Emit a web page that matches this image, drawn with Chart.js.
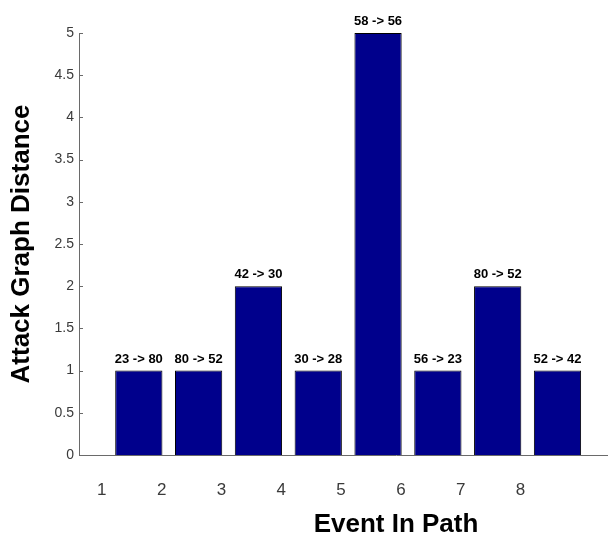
<!DOCTYPE html>
<html>
<head>
<meta charset="utf-8">
<script src="https://cdn.jsdelivr.net/npm/chart.js@4/dist/chart.umd.min.js"></script>
<style>
  html, body { margin: 0; padding: 0; background: #fff; overflow: hidden; width: 608px; height: 540px; }
  canvas { display: block; }
</style>
</head>
<body>
<canvas id="c" width="720" height="540"></canvas>
<script>
// ---- data ----
const events = [1, 2, 3, 4, 5, 6, 7, 8];
const distances = [1, 1, 2, 1, 5, 1, 2, 1];
const transitions = ["23 -> 80", "80 -> 52", "42 -> 30", "30 -> 28", "58 -> 56", "56 -> 23", "80 -> 52", "52 -> 42"];
const xTickValues = [1, 2, 3, 4, 5, 6, 7, 8];
const yTickStep = 0.5;
const xTitle = "Event In Path";
const yTitle = "Attack Graph Distance";

const AXIS = '#6a6a6a';

const barLabelPlugin = {
  id: 'barLabels',
  afterDatasetsDraw(chart) {
    const ctx = chart.ctx;
    const meta = chart.getDatasetMeta(0);
    ctx.save();
    ctx.fillStyle = '#000';
    ctx.font = 'bold 13px "Liberation Sans", Arial, sans-serif';
    ctx.textAlign = 'center';
    ctx.textBaseline = 'alphabetic';
    meta.data.forEach((el, i) => {
      ctx.fillText(transitions[i], el.x, el.y - 8);
    });
    ctx.restore();
  }
};

const innerTickPlugin = {
  id: 'innerTicks',
  afterDraw(chart) {
    const y = chart.scales.y;
    const ctx = chart.ctx;
    ctx.save();
    ctx.strokeStyle = AXIS;
    ctx.lineWidth = 1;
    y.ticks.forEach(t => {
      const py = Math.round(y.getPixelForValue(t.value)) + 0.5;
      ctx.beginPath();
      ctx.moveTo(y.right, py);
      ctx.lineTo(y.right + 4, py);
      ctx.stroke();
    });
    ctx.restore();
  }
};

new Chart(document.getElementById('c'), {
  type: 'bar',
  data: {
    datasets: [{
      data: events.map((e, i) => ({ x: e, y: distances[i] })),
      backgroundColor: '#00008C',
      borderColor: '#000000',
      borderWidth: 1,
      barPercentage: 0.79,
      categoryPercentage: 1
    }]
  },
  options: {
    responsive: false,
    animation: false,
    layout: { padding: { top: 33, right: 7, left: 0, bottom: 0 } },
    plugins: { legend: { display: false }, tooltip: { enabled: false } },
    scales: {
      x: {
        type: 'linear',
        offset: false,
        min: 0,
        max: 10.6,
        grid: { display: false, drawTicks: false, tickLength: 0, offset: false },
        border: { display: true, color: AXIS, width: 1 },
        afterBuildTicks(scale) { scale.ticks = xTickValues.map(v => ({ value: v })); },
        afterFit(scale) { scale.height = 85; },
        ticks: {
          padding: 25,
          labelOffset: -37,
          color: '#3a3a3a',
          font: { family: '"Liberation Sans", Arial, sans-serif', size: 17 },
          maxRotation: 0,
          autoSkip: false,
          callback: v => String(v)
        },
        title: {
          display: true,
          text: xTitle,
          color: '#000',
          font: { family: '"Liberation Sans", Arial, sans-serif', size: 26, weight: 'bold' },
          padding: { top: 0, bottom: 0 }
        }
      },
      y: {
        min: 0,
        max: 5,
        grid: { display: false, drawTicks: false, tickLength: 0 },
        border: { display: true, color: AXIS, width: 1 },
        afterFit(scale) { scale.width = 79; },
        ticks: {
          stepSize: yTickStep,
          padding: 5,
          color: '#3a3a3a',
          font: { family: '"Liberation Sans", Arial, sans-serif', size: 14 },
          callback: v => String(v)
        },
        title: {
          display: true,
          text: yTitle,
          color: '#000',
          font: { family: '"Liberation Sans", Arial, sans-serif', size: 26, weight: 'bold' },
          padding: { top: 6, bottom: 0 }
        }
      }
    }
  },
  plugins: [barLabelPlugin, innerTickPlugin]
});
</script>
</body>
</html>
